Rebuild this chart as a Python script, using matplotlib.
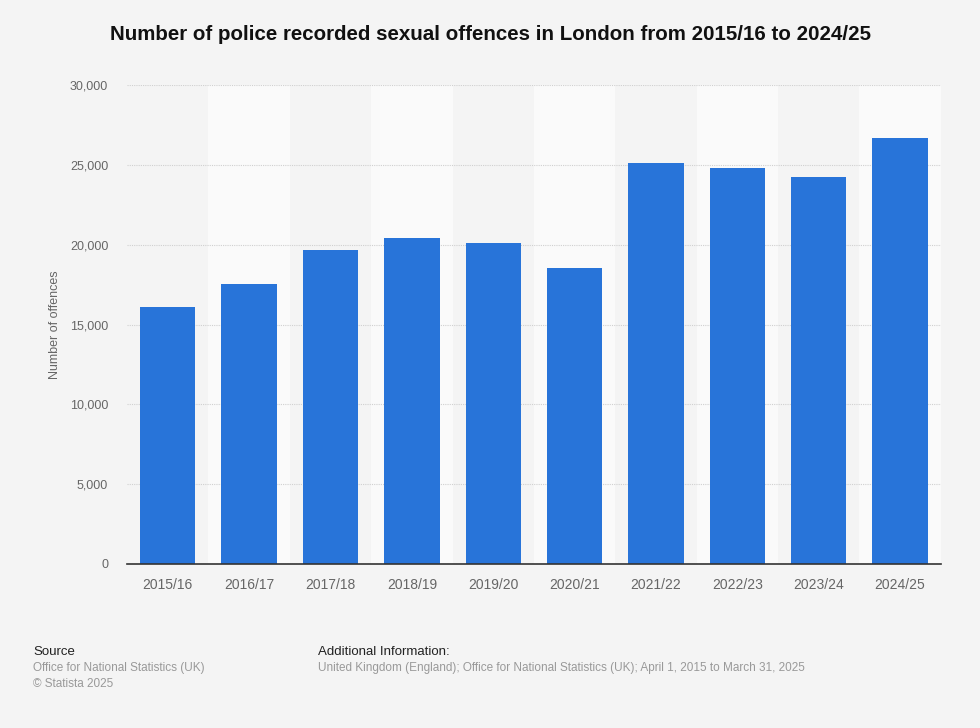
import matplotlib
matplotlib.use('Agg')
from matplotlib import pyplot as plt

years = ['2015/16', '2016/17', '2017/18', '2018/19', '2019/20',
         '2020/21', '2021/22', '2022/23', '2023/24', '2024/25']
offences = [16100, 17560, 19670, 20400, 20090, 18530, 25150, 24810, 24230, 26690]
yticks = [0, 5000, 10000, 15000, 20000, 25000, 30000]

bg = '#f4f4f4'
bar_color = '#2874d9'
grey = '#666666'

plt.rcParams['font.family'] = ['Liberation Sans', 'DejaVu Sans']

fig = plt.figure(figsize=(9.8, 7.28), dpi=100, facecolor=bg)
ax = fig.add_axes([0.1296, 0.2253, 0.8304, 0.6577])
ax.set_facecolor(bg)

x = range(len(years))
# alternating column bands
for i in x:
    if i % 2 == 1:
        ax.axvspan(i - 0.5, i + 0.5, color='#fafafa', zorder=0, lw=0)

ax.bar(x, offences, width=0.68, color=bar_color, zorder=3)

ax.set_xlim(-0.5, len(years) - 0.5)
ax.set_ylim(0, 30000)
ax.set_yticks(yticks)
ax.set_yticklabels(['{:,}'.format(v) for v in yticks])
ax.set_xticks(list(x))
ax.set_xticklabels(years)
ax.grid(axis='y', color='#d0d0d0', linestyle=(0, (1, 1)), linewidth=0.8, zorder=1)

for s in ['top', 'right', 'left']:
    ax.spines[s].set_visible(False)
ax.spines['bottom'].set_color('#333333')
ax.spines['bottom'].set_linewidth(1.2)
ax.spines['bottom'].set_zorder(4)

ax.tick_params(axis='both', length=0, labelcolor=grey, labelsize=9)
ax.tick_params(axis='x', pad=10, labelsize=10)
ax.tick_params(axis='y', pad=13.5)
ax.set_ylabel('Number of offences', color=grey, fontsize=9, labelpad=6.5)

fig.text(0.5, 0.953, 'Number of police recorded sexual offences in London from 2015/16 to 2024/25',
         ha='center', va='center', fontsize=14.8, fontweight='bold', color='#111111')

fig.text(0.0337, 0.104, 'Source', fontsize=9.5, color='#222222', va='center')
fig.text(0.0337, 0.082, 'Office for National Statistics (UK)', fontsize=8.5, color='#999999', va='center')
fig.text(0.0337, 0.060, '\u00a9 Statista 2025', fontsize=8.5, color='#999999', va='center')
fig.text(0.3245, 0.104, 'Additional Information:', fontsize=9.5, color='#222222', va='center')
fig.text(0.3245, 0.082, 'United Kingdom (England); Office for National Statistics (UK); April 1, 2015 to March 31, 2025',
         fontsize=8.5, color='#999999', va='center')

plt.savefig('out.png', dpi=100, facecolor=bg)
